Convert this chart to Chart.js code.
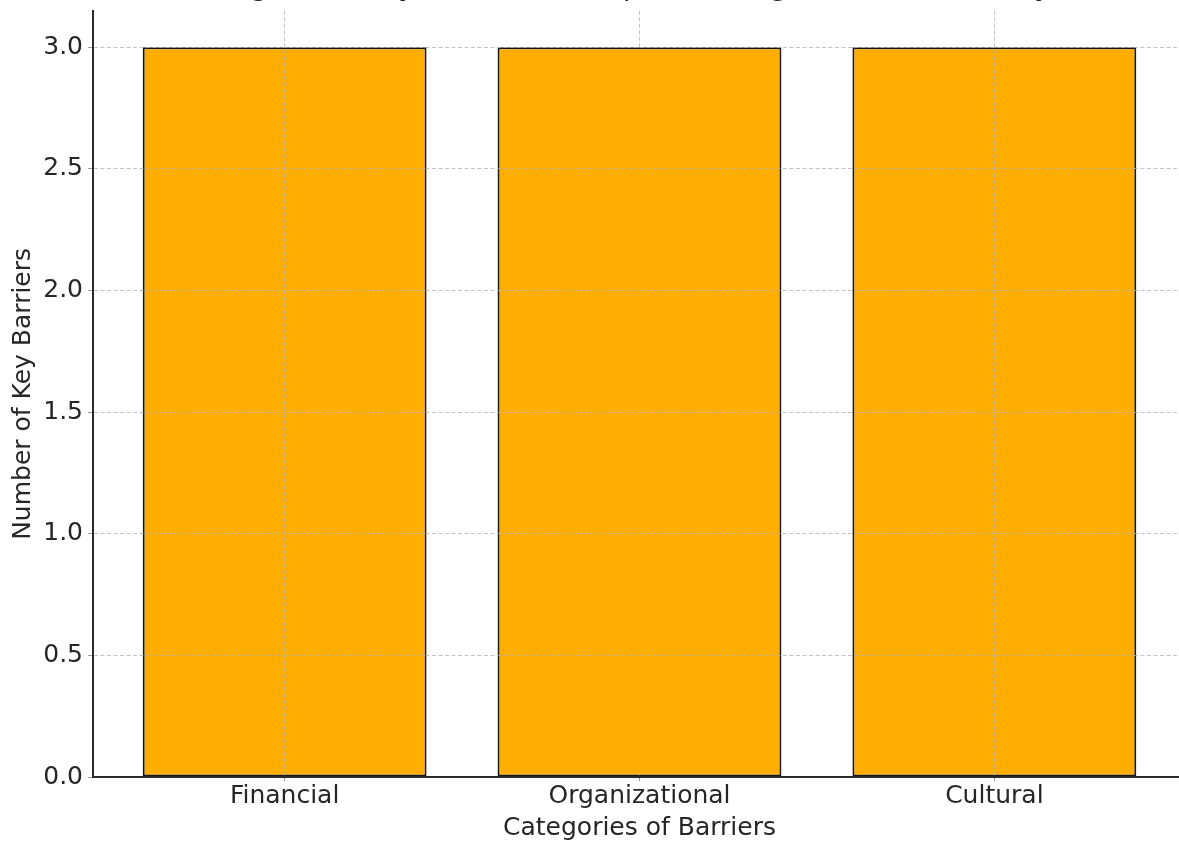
<!DOCTYPE html>
<html>
<head>
<meta charset="utf-8">
<script src="https://cdn.jsdelivr.net/npm/chart.js@4.4.1/dist/chart.umd.min.js"></script>
<style>
  html, body { margin: 0; padding: 0; background: #fff; overflow: hidden; }
  #wrap { width: 1190px; height: 843px; position: relative; }
</style>
</head>
<body>
<div id="wrap"><canvas id="barrier-chart"></canvas></div>
<script>
// チャートのデータ
const categories = ["Financial", "Organizational", "Cultural"];
const barrierCounts = [3, 3, 3];
const chartTitle = "Figure 1: Key Barriers to Implementing Circular Economy";
const xAxisTitle = "Categories of Barriers";
const yAxisTitle = "Number of Key Barriers";
const yTickStep = 0.5;

const gridColor = "rgba(176, 176, 176, 0.75)";
const axisColor = "#2b2b2b";

Chart.defaults.font.family = "'DejaVu Sans', sans-serif";
Chart.defaults.color = "#262626";

new Chart(document.getElementById("barrier-chart"), {
  type: "bar",
  data: {
    datasets: [
      {
        label: yAxisTitle,
        data: categories.map((c, i) => ({ x: i, y: barrierCounts[i] })),
        backgroundColor: "#FFAE00",
        borderColor: "#151515",
        borderWidth: 2,
        borderSkipped: false,
        categoryPercentage: 1,
        barPercentage: 0.8,
      },
    ],
  },
  options: {
    responsive: true,
    maintainAspectRatio: false,
    animation: false,
    devicePixelRatio: 1,
    layout: { padding: { left: 0, right: 4, top: 0, bottom: 0 } },
    plugins: {
      legend: { display: false },
      tooltip: { enabled: false },
      // タイトルは上端で切れて見える（プロット領域の中央に揃える）
      title: {
        display: true,
        fullSize: false,
        text: chartTitle,
        font: { size: 29, weight: "normal" },
        color: "#262626",
        padding: { top: -30, bottom: 6 },
      },
    },
    scales: {
      x: {
        type: "linear",
        offset: false,
        min: -0.54,
        max: 2.54,
        afterBuildTicks: (scale) => {
          scale.ticks = categories.map((c, i) => ({ value: i }));
        },
        afterFit: (scale) => { scale.height = 66; },
        ticks: {
          callback: (value) => categories[value],
          font: { size: 25 },
          padding: 0,
          maxRotation: 0,
        },
        grid: {
          offset: false,
          color: gridColor,
          lineWidth: 1,
          z: 1,
          tickLength: 4,
          tickColor: "#999",
        },
        border: { color: axisColor, width: 2, dash: [4, 2.5], z: 2 },
        title: {
          display: true,
          text: xAxisTitle,
          font: { size: 25 },
          padding: { top: 0, bottom: 0 },
        },
      },
      y: {
        min: 0,
        max: 3.15,
        afterFit: (scale) => { scale.width = 93; },
        ticks: {
          stepSize: yTickStep,
          includeBounds: false,
          callback: (value) => Number(value).toFixed(1),
          font: { size: 25, lineHeight: 0.45 },
          padding: 5,
        },
        grid: {
          color: (ctx) => (ctx.tick && ctx.tick.value === 0 ? "rgba(0,0,0,0)" : gridColor),
          lineWidth: 1,
          z: 1,
          tickLength: 5,
          tickColor: "#999",
        },
        border: { color: axisColor, width: 2, dash: [4, 2.5], z: 2 },
        title: {
          display: true,
          text: yAxisTitle,
          font: { size: 25 },
          padding: { top: 8, bottom: 4 },
        },
      },
    },
  },
});
</script>
</body>
</html>
